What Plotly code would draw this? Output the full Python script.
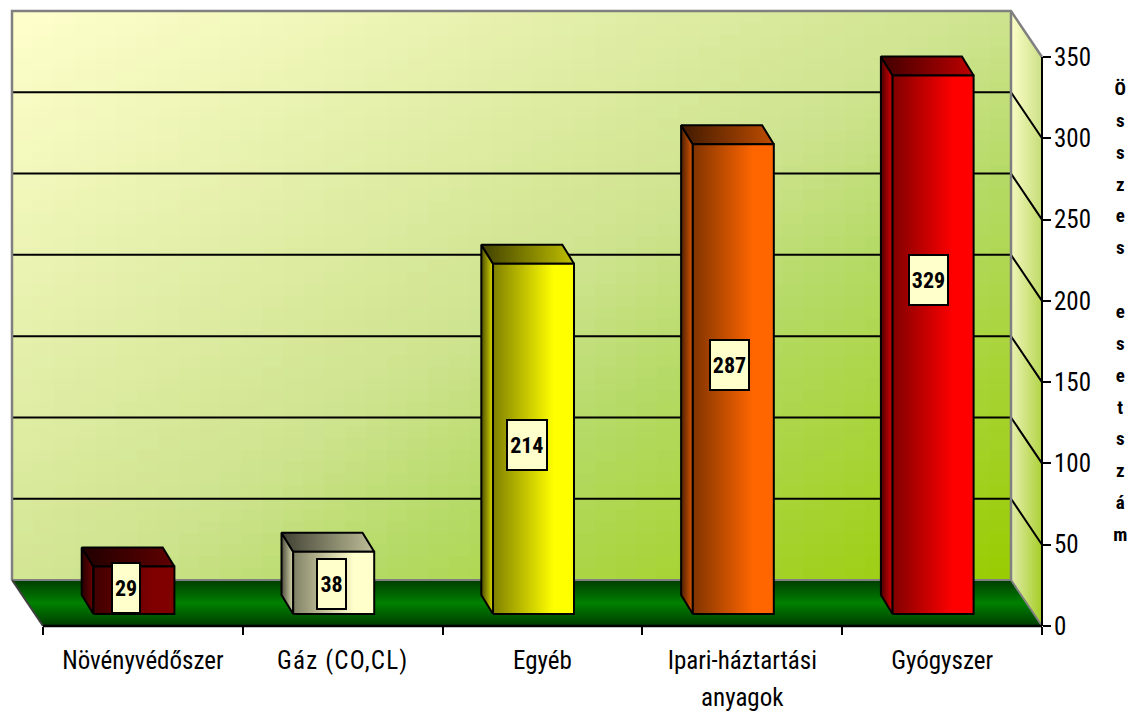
import plotly.graph_objects as go

categories = ["Növényvédőszer", "Gáz (CO,CL)", "Egyéb", "Ipari-háztartási<br>anyagok", "Gyógyszer"]
values = [29, 38, 214, 287, 329]
bar_colors = ["#800000", "#FFFFCC", "#FFFF00", "#FF6600", "#FF0000"]
y_ticks = [0, 50, 100, 150, 200, 250, 300, 350]
axis_title = ["Ö", "s", "s", "z", "e", "s", " ", "e", "s", "e", "t", "s", "z", "á", "m"]

W, H = 1130, 713
PX_X = 199.8
PX_Y = 569 / 350
X0_PX, Y0_PX = 43, 626
x_range = [(0 - X0_PX) / PX_X, (W - X0_PX) / PX_X]
y_range = [-(H - Y0_PX) / PX_Y, Y0_PX / PX_Y]

WALL_DX, WALL_DY = -31 / PX_X, 46 / PX_Y
BAR_DX, BAR_DY = -11.7 / PX_X, 19 / PX_Y
BAR_W = 81 / PX_X
BAR_OFF = 0.455
BAR_BASE = 12 / PX_Y
BAR_K = 1.007
label_dx = [-8, -2, -6.5, -3.5, -5]
label_y_px = [587.5, 584, 444.5, 365, 279.5]
label_w = [28, 29, 40, 39, 39]
label_tracking = [0, 1.2, 0, 0, 0]

FONT = "Roboto"
fig = go.Figure()


def mix(a, b, t):
    a = [int(a[i:i + 2], 16) for i in (1, 3, 5)]
    b = [int(b[i:i + 2], 16) for i in (1, 3, 5)]
    return "#%02X%02X%02X" % tuple(round(p + (q - p) * t) for p, q in zip(a, b))


def shade(c, t):
    return mix("#000000", c, t)


def poly(xs, ys, scale=None, kind="horizontal", line="black", lw=2, solid=None):
    kw = dict(x=list(xs) + [xs[0]], y=list(ys) + [ys[0]], mode="lines", fill="toself",
              line=dict(color=line, width=lw), hoverinfo="skip", showlegend=False, cliponaxis=False)
    if scale:
        kw["fillgradient"] = dict(type=kind, colorscale=scale)
    else:
        kw["fillcolor"] = solid
    fig.add_trace(go.Scatter(**kw))


def path(xs, ys, color="black", width=2):
    fig.add_trace(go.Scatter(x=xs, y=ys, mode="lines", line=dict(color=color, width=width),
                             hoverinfo="skip", showlegend=False, cliponaxis=False))


n = len(categories)
top = y_ticks[-1]
bl, br = WALL_DX, n + WALL_DX

# back wall: shading grid between four corner tones
STEPS = 48
wx = [bl + (br - bl) * i / STEPS for i in range(STEPS + 1)]
wy = [WALL_DY + top * j / STEPS for j in range(STEPS + 1)]
TL, TR, BL, BR = 0.0, 0.5, 0.45, 1.0
wz = []
for j in range(STEPS):
    v = (j + 0.5) / STEPS
    row = []
    for i in range(STEPS):
        u = (i + 0.5) / STEPS
        row.append((BL * (1 - u) + BR * u) * (1 - v) + (TL * (1 - u) + TR * u) * v)
    wz.append(row)
fig.add_trace(go.Heatmap(x=wx, y=wy, z=wz,
                         colorscale=[[0, "#FFFFCC"], [0.5, "#CEE38E"], [0.64, "#B5DA66"], [1, "#99CC00"]],
                         showscale=False, hoverinfo="skip", zmin=0, zmax=1, xgap=0, ygap=0))

# right side wall, one band per grid step
for a, b in zip(y_ticks[:-1], y_ticks[1:]):
    t = 1 - (a + b) / 2 / top
    left = mix("#FFFFCC", "#E0EBA8", t)
    right = mix("#CFE18F", "#A2CD1E", t)
    poly([br, n, n, br], [a + WALL_DY, a, b, b + WALL_DY],
         scale=[[0, left], [1, right]], line="rgba(0,0,0,0)", lw=0)

# floor
poly([bl, br, n, 0], [WALL_DY, WALL_DY, 0, 0],
     scale=[[0, "#003C00"], [0.5, "#008000"], [1, "#003C00"]], kind="vertical",
     line="rgba(0,0,0,0)", lw=0)

# grid lines
for v in y_ticks[1:-1]:
    path([bl, br, n], [v + WALL_DY, v + WALL_DY, v])

# wall edges
G = "#808080"
path([bl, bl, br, n], [WALL_DY, top + WALL_DY, top + WALL_DY, top], G, 2.5)
path([br, br], [WALL_DY, top + WALL_DY], G, 2.5)
path([bl, br, n], [WALL_DY, WALL_DY, 0], G, 2)
path([bl, 0], [WALL_DY, 0], "#404040", 2)

# bars
for i, (v, c) in enumerate(zip(values, bar_colors)):
    x1 = i + BAR_OFF - BAR_W / 2
    x2 = x1 + BAR_W
    y1 = BAR_BASE
    y2 = BAR_BASE + v * BAR_K
    poly([x1, x1, x1 + BAR_DX, x1 + BAR_DX], [y1, y2, y2 + BAR_DY, y1 + BAR_DY],
         scale=[[0, shade(c, 0.3)], [1, shade(c, 0.85)]])
    poly([x1, x2, x2 + BAR_DX, x1 + BAR_DX], [y2, y2, y2 + BAR_DY, y2 + BAR_DY],
         scale=[[0, shade(c, 0.25)], [1, shade(c, 0.75)]])
    poly([x1, x2, x2, x1], [y1, y1, y2, y2],
         scale=[[0, shade(c, 0.5)], [0.75, c], [1, c]])

# axes
path([0, n], [0, 0], "black", 2.5)
path([n, n], [0, top], "black", 2)

annotations = []
for i, v in enumerate(values):
    annotations.append(dict(
        x=i + BAR_OFF + label_dx[i] / PX_X, y=(Y0_PX - label_y_px[i]) / PX_Y, xref="x", yref="y",
        text=f"<b>{v}</b>", showarrow=False, font=dict(family=FONT, size=22, color="black"),
        bgcolor="#FFFFCC", bordercolor="black", borderwidth=2, borderpad=0,
        width=label_w[i] - 2, height=48, xanchor="center", yanchor="middle", align="center", valign="middle"))

title_text = "<br>".join(f'<span style="font-size:19px">{ch}</span>' for ch in axis_title)
annotations.append(dict(
    x=1120 / W, y=1 - 311 / H, xref="paper", yref="paper", text=f"<b>{title_text}</b>",
    showarrow=False, font=dict(family=FONT, size=24.5, color="black"),
    xanchor="center", yanchor="middle", align="center"))

x_labels = ["<br>".join(f'<span style="font-size:25px;letter-spacing:{sp}px">{p}</span>' for p in c.split("<br>"))
            for c, sp in zip(categories, label_tracking)]

fig.update_layout(
    width=W, height=H, margin=dict(l=0, r=0, t=0, b=0), autosize=False,
    paper_bgcolor="white", plot_bgcolor="white", showlegend=False, annotations=annotations,
    xaxis=dict(range=x_range, domain=[0, 1], anchor="free", position=(H - Y0_PX) / H, automargin=False,
               tickmode="array", tickvals=[i + 0.5 for i in range(n)], ticktext=x_labels,
               ticks="outside", ticklen=8, tickwidth=0, tickcolor="rgba(0,0,0,0)",
               tickfont=dict(family=FONT, size=28.5, color="black", weight=400), tickangle=0,
               showgrid=False, zeroline=False, showline=False,
               minor=dict(tickmode="array", tickvals=list(range(n + 1)), ticks="outside",
                          ticklen=8, tickwidth=2, tickcolor="black", showgrid=False)),
    yaxis=dict(range=y_range, domain=[0, 1], anchor="free", position=(X0_PX + n * PX_X) / W, side="right",
               automargin=False,
               tickmode="array", tickvals=y_ticks, ticks="outside", ticklen=8, tickwidth=2, tickcolor="black",
               ticklabelstandoff=-2,
               tickfont=dict(family=FONT, size=25, color="black", weight=400),
               showgrid=False, zeroline=False, showline=False),
)
POST = """document.body.style.margin='0';
document.documentElement.style.overflow='hidden';
var s=document.createElement('style');
s.textContent='svg text{font-stretch:78%;}';
document.head.appendChild(s);"""
fig.write_html("out.html", post_script=POST, config={"displayModeBar": False})
